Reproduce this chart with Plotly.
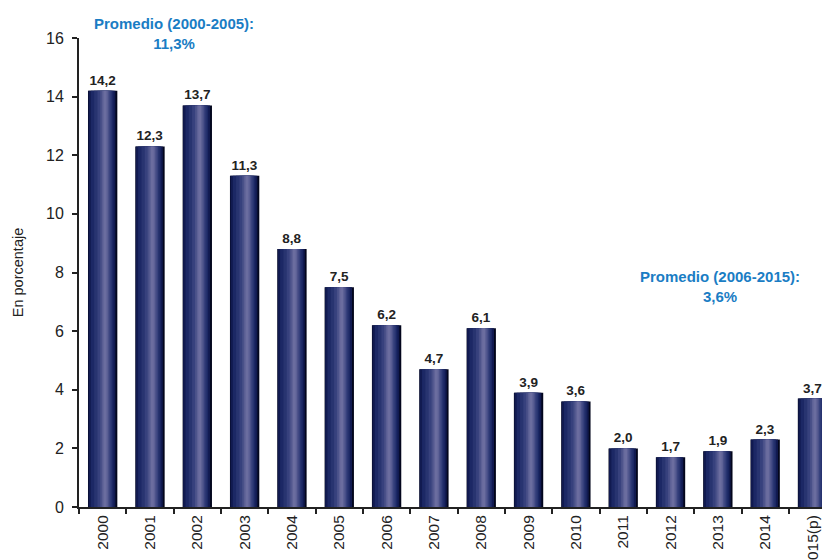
import plotly.graph_objects as go

years = ["2000", "2001", "2002", "2003", "2004", "2005", "2006", "2007",
         "2008", "2009", "2010", "2011", "2012", "2013", "2014", "2015(p)"]
values = [14.2, 12.3, 13.7, 11.3, 8.8, 7.5, 6.2, 4.7, 6.1, 3.9, 3.6, 2.0, 1.7, 1.9, 2.3, 3.7]
labels = ["14,2", "12,3", "13,7", "11,3", "8,8", "7,5", "6,2", "4,7",
          "6,1", "3,9", "3,6", "2,0", "1,7", "1,9", "2,3", "3,7"]
yticks = [0, 2, 4, 6, 8, 10, 12, 14, 16]

# shading layers (left edge, right edge relative to category centre, colour)
layers = [(-0.31, 0.31, "#03061c"), (-0.30, 0.27, "#111a50"),
          (-0.25, 0.23, "#1c2865"), (-0.18, 0.20, "#283470"),
          (-0.11, 0.17, "#37417d"), (-0.05, 0.14, "#4a5189"),
          (-0.01, 0.11, "#5d6196"), (0.02, 0.08, "#6b6d9f")]

FONT = "Liberation Sans, Arial, sans-serif"

fig = go.Figure()
for i, (lo, hi, c) in enumerate(layers):
    fig.add_trace(go.Bar(
        x=years, y=values, width=hi - lo, offset=lo,
        marker=dict(color=c, line=dict(width=0)),
        text=labels if i == 0 else None,
        textposition="outside" if i == 0 else "none",
        textfont=dict(family=FONT, size=13.5, color="#222222", weight="bold"),
        cliponaxis=False, hoverinfo="skip", showlegend=False,
    ))

fig.update_layout(
    width=830, height=560, barmode="overlay",
    margin=dict(l=71, r=8, t=30, b=61),
    plot_bgcolor="white", paper_bgcolor="white",
    font=dict(family=FONT, color="#222222"),
    xaxis=dict(
        type="category", range=[-0.5, 15.37],
        showline=True, linecolor="#222222", linewidth=2,
        ticks="outside", tickson="boundaries", ticklen=5, tickwidth=1.5, tickcolor="#222222",
        tickangle=-90, tickfont=dict(family=FONT, size=15.5, color="#222222"),
        automargin=False, showgrid=False,
    ),
    yaxis=dict(
        range=[0, 16], tickvals=yticks, ticktext=[str(v) for v in yticks],
        showline=True, linecolor="#222222", linewidth=2,
        ticks="outside", ticklen=5, tickwidth=1.5, tickcolor="#222222",
        ticklabelstandoff=5,
        tickfont=dict(family=FONT, size=16, color="#222222"), showgrid=False, zeroline=False,
        title=dict(text="En porcentaje", font=dict(family=FONT, size=14.5, color="#222222"), standoff=19),
        automargin=False,
    ),
    annotations=[
        dict(x=1.5, y=1.0096, xref="x", yref="paper", xanchor="center", yanchor="middle",
             showarrow=False, text="<b>Promedio (2000-2005):<br>11,3%</b>",
             font=dict(family=FONT, size=15, color="#1a7dc4")),
        dict(x=13.05, y=0.471, xref="x", yref="paper", xanchor="center", yanchor="middle",
             showarrow=False, text="<b>Promedio (2006-2015):<br>3,6%</b>",
             font=dict(family=FONT, size=15, color="#1a7dc4")),
    ],
)

fig.write_html("out.html")
